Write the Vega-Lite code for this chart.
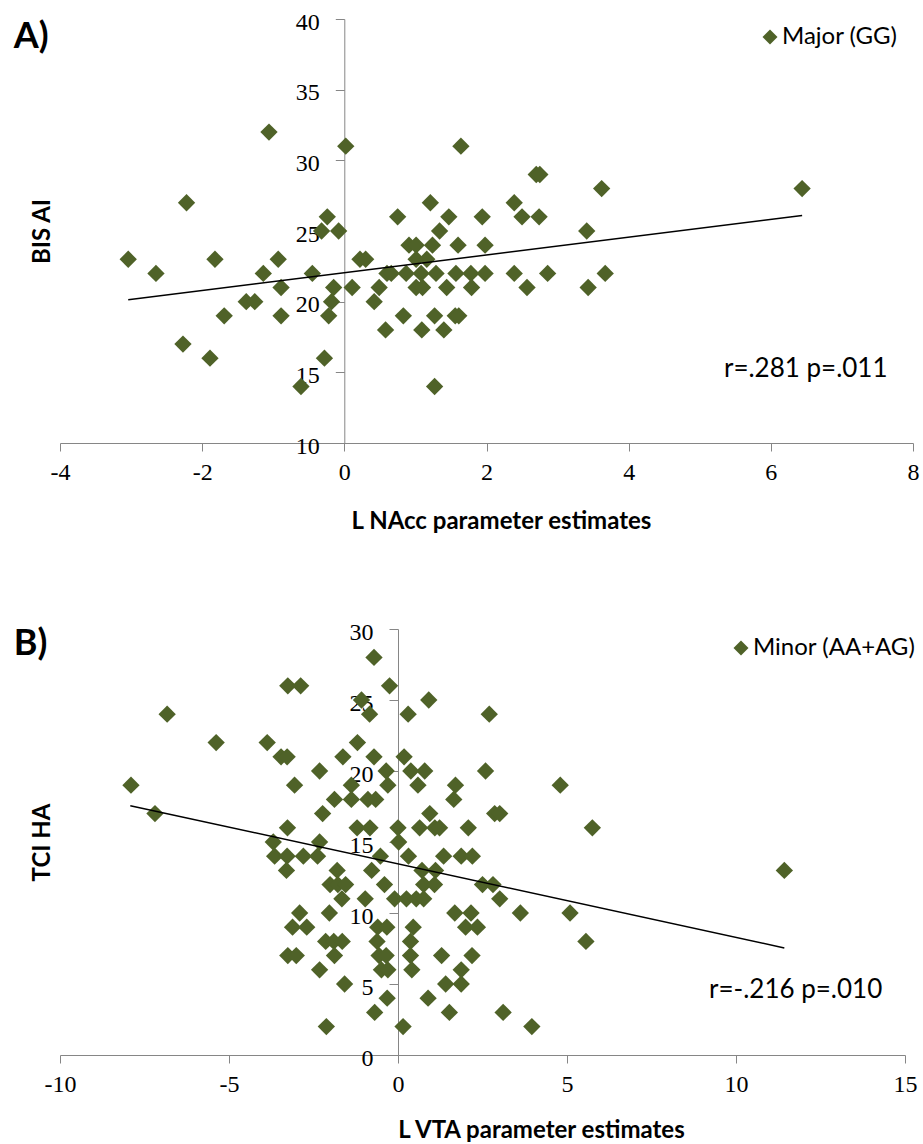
{
  "$schema": "https://vega.github.io/schema/vega-lite/v6.json",
  "padding": {"left": 13, "top": 10, "right": 3, "bottom": 0},
  "background": "white",
  "config": {
    "view": {"stroke": null},
    "axis": {
      "grid": false,
      "domainColor": "#868686",
      "tickColor": "#868686",
      "domainWidth": 1,
      "tickWidth": 1,
      "labelFont": "Liberation Serif",
      "labelFontSize": 24,
      "labelColor": "#000000",
      "titleFont": "Lato",
      "titleFontSize": 24,
      "titleFontWeight": "bold",
      "titleColor": "#000000",
      "labelFlush": false,
      "labelOverlap": false,
      "labelBound": false
    },
    "legend": {
      "labelFont": "Lato",
      "labelFontSize": 24,
      "labelColor": "#000000",
      "labelLimit": 400,
      "symbolType": "diamond",
      "symbolSize": 225,
      "symbolStrokeWidth": 0,
      "padding": 0,
      "labelOffset": 0
    }
  },
  "datasets": {
    "a_points": [
      {"x": -3.04, "y": 23, "group": "Major (GG)"}, {"x": -2.65, "y": 22, "group": "Major (GG)"}, {"x": -2.22, "y": 27, "group": "Major (GG)"},
      {"x": -2.27, "y": 17, "group": "Major (GG)"}, {"x": -1.89, "y": 16, "group": "Major (GG)"}, {"x": -1.82, "y": 23, "group": "Major (GG)"},
      {"x": -1.69, "y": 19, "group": "Major (GG)"}, {"x": -1.38, "y": 20, "group": "Major (GG)"}, {"x": -1.26, "y": 20, "group": "Major (GG)"},
      {"x": -1.14, "y": 22, "group": "Major (GG)"}, {"x": -1.06, "y": 32, "group": "Major (GG)"}, {"x": -0.93, "y": 23, "group": "Major (GG)"},
      {"x": -0.89, "y": 21, "group": "Major (GG)"}, {"x": -0.89, "y": 19, "group": "Major (GG)"}, {"x": -0.61, "y": 14, "group": "Major (GG)"},
      {"x": -0.45, "y": 22, "group": "Major (GG)"}, {"x": -0.32, "y": 25, "group": "Major (GG)"}, {"x": -0.28, "y": 16, "group": "Major (GG)"},
      {"x": -0.24, "y": 26, "group": "Major (GG)"}, {"x": -0.22, "y": 19, "group": "Major (GG)"}, {"x": -0.18, "y": 20, "group": "Major (GG)"},
      {"x": -0.15, "y": 21, "group": "Major (GG)"}, {"x": -0.08, "y": 25, "group": "Major (GG)"}, {"x": 0.02, "y": 31, "group": "Major (GG)"},
      {"x": 0.11, "y": 21, "group": "Major (GG)"}, {"x": 0.22, "y": 23, "group": "Major (GG)"}, {"x": 0.30, "y": 23, "group": "Major (GG)"},
      {"x": 0.42, "y": 20, "group": "Major (GG)"}, {"x": 0.49, "y": 21, "group": "Major (GG)"}, {"x": 0.58, "y": 18, "group": "Major (GG)"},
      {"x": 0.60, "y": 22, "group": "Major (GG)"}, {"x": 0.66, "y": 22, "group": "Major (GG)"}, {"x": 0.75, "y": 26, "group": "Major (GG)"},
      {"x": 0.83, "y": 19, "group": "Major (GG)"}, {"x": 0.87, "y": 22, "group": "Major (GG)"}, {"x": 0.91, "y": 24, "group": "Major (GG)"},
      {"x": 1.01, "y": 24, "group": "Major (GG)"}, {"x": 1.01, "y": 23, "group": "Major (GG)"}, {"x": 1.16, "y": 23, "group": "Major (GG)"},
      {"x": 1.01, "y": 21, "group": "Major (GG)"}, {"x": 1.10, "y": 21, "group": "Major (GG)"}, {"x": 1.08, "y": 22, "group": "Major (GG)"},
      {"x": 1.09, "y": 18, "group": "Major (GG)"}, {"x": 1.21, "y": 27, "group": "Major (GG)"}, {"x": 1.24, "y": 24, "group": "Major (GG)"},
      {"x": 1.27, "y": 19, "group": "Major (GG)"}, {"x": 1.27, "y": 14, "group": "Major (GG)"}, {"x": 1.29, "y": 22, "group": "Major (GG)"},
      {"x": 1.34, "y": 25, "group": "Major (GG)"}, {"x": 1.40, "y": 18, "group": "Major (GG)"}, {"x": 1.44, "y": 21, "group": "Major (GG)"},
      {"x": 1.47, "y": 26, "group": "Major (GG)"}, {"x": 1.57, "y": 22, "group": "Major (GG)"}, {"x": 1.56, "y": 19, "group": "Major (GG)"},
      {"x": 1.61, "y": 19, "group": "Major (GG)"}, {"x": 1.60, "y": 24, "group": "Major (GG)"}, {"x": 1.64, "y": 31, "group": "Major (GG)"},
      {"x": 1.78, "y": 22, "group": "Major (GG)"}, {"x": 1.79, "y": 21, "group": "Major (GG)"}, {"x": 1.94, "y": 26, "group": "Major (GG)"},
      {"x": 1.98, "y": 24, "group": "Major (GG)"}, {"x": 1.98, "y": 22, "group": "Major (GG)"}, {"x": 2.39, "y": 27, "group": "Major (GG)"},
      {"x": 2.39, "y": 22, "group": "Major (GG)"}, {"x": 2.50, "y": 26, "group": "Major (GG)"}, {"x": 2.57, "y": 21, "group": "Major (GG)"},
      {"x": 2.70, "y": 29, "group": "Major (GG)"}, {"x": 2.75, "y": 29, "group": "Major (GG)"}, {"x": 2.74, "y": 26, "group": "Major (GG)"},
      {"x": 2.86, "y": 22, "group": "Major (GG)"}, {"x": 3.41, "y": 25, "group": "Major (GG)"}, {"x": 3.43, "y": 21, "group": "Major (GG)"},
      {"x": 3.62, "y": 28, "group": "Major (GG)"}, {"x": 3.67, "y": 22, "group": "Major (GG)"}, {"x": 6.44, "y": 28, "group": "Major (GG)"}
    ],
    "a_trend": [{"x": -3.04, "y": 20.14}, {"x": 6.44, "y": 26.09}],
    "a_note": [{"label": "r=.281 p=.011"}],
    "a_tag": [{"label": "A)"}],
    "b_points": [
      {"x": -0.71, "y": 28, "group": "Minor (AA+AG)"},
      {"x": -3.26, "y": 26, "group": "Minor (AA+AG)"}, {"x": -2.88, "y": 26, "group": "Minor (AA+AG)"}, {"x": -0.25, "y": 26, "group": "Minor (AA+AG)"},
      {"x": 0.91, "y": 25, "group": "Minor (AA+AG)"}, {"x": -1.08, "y": 25, "group": "Minor (AA+AG)"},
      {"x": -6.83, "y": 24, "group": "Minor (AA+AG)"}, {"x": -0.84, "y": 24, "group": "Minor (AA+AG)"}, {"x": 0.30, "y": 24, "group": "Minor (AA+AG)"}, {"x": 2.70, "y": 24, "group": "Minor (AA+AG)"},
      {"x": -5.38, "y": 22, "group": "Minor (AA+AG)"}, {"x": -3.87, "y": 22, "group": "Minor (AA+AG)"}, {"x": -1.20, "y": 22, "group": "Minor (AA+AG)"},
      {"x": -3.46, "y": 21, "group": "Minor (AA+AG)"}, {"x": -3.28, "y": 21, "group": "Minor (AA+AG)"}, {"x": -1.63, "y": 21, "group": "Minor (AA+AG)"}, {"x": -0.71, "y": 21, "group": "Minor (AA+AG)"}, {"x": 0.18, "y": 21, "group": "Minor (AA+AG)"},
      {"x": -2.32, "y": 20, "group": "Minor (AA+AG)"}, {"x": -0.35, "y": 20, "group": "Minor (AA+AG)"}, {"x": 0.38, "y": 20, "group": "Minor (AA+AG)"}, {"x": 0.79, "y": 20, "group": "Minor (AA+AG)"}, {"x": 2.59, "y": 20, "group": "Minor (AA+AG)"},
      {"x": -7.90, "y": 19, "group": "Minor (AA+AG)"}, {"x": -3.06, "y": 19, "group": "Minor (AA+AG)"}, {"x": -1.38, "y": 19, "group": "Minor (AA+AG)"}, {"x": -0.30, "y": 19, "group": "Minor (AA+AG)"}, {"x": 0.59, "y": 19, "group": "Minor (AA+AG)"}, {"x": 1.70, "y": 19, "group": "Minor (AA+AG)"}, {"x": 4.80, "y": 19, "group": "Minor (AA+AG)"},
      {"x": -1.88, "y": 18, "group": "Minor (AA+AG)"}, {"x": -1.38, "y": 18, "group": "Minor (AA+AG)"}, {"x": -0.89, "y": 18, "group": "Minor (AA+AG)"}, {"x": -0.66, "y": 18, "group": "Minor (AA+AG)"}, {"x": 1.65, "y": 18, "group": "Minor (AA+AG)"},
      {"x": -7.19, "y": 17, "group": "Minor (AA+AG)"}, {"x": -2.23, "y": 17, "group": "Minor (AA+AG)"}, {"x": 0.94, "y": 17, "group": "Minor (AA+AG)"}, {"x": 2.86, "y": 17, "group": "Minor (AA+AG)"}, {"x": 3.01, "y": 17, "group": "Minor (AA+AG)"},
      {"x": -3.27, "y": 16, "group": "Minor (AA+AG)"}, {"x": -1.21, "y": 16, "group": "Minor (AA+AG)"}, {"x": -0.83, "y": 16, "group": "Minor (AA+AG)"}, {"x": 0.0, "y": 16, "group": "Minor (AA+AG)"}, {"x": 0.64, "y": 16, "group": "Minor (AA+AG)"}, {"x": 1.09, "y": 16, "group": "Minor (AA+AG)"}, {"x": 1.23, "y": 16, "group": "Minor (AA+AG)"}, {"x": 2.08, "y": 16, "group": "Minor (AA+AG)"}, {"x": 5.75, "y": 16, "group": "Minor (AA+AG)"},
      {"x": -3.69, "y": 15, "group": "Minor (AA+AG)"}, {"x": -2.32, "y": 15, "group": "Minor (AA+AG)"}, {"x": 0.02, "y": 15, "group": "Minor (AA+AG)"},
      {"x": -3.65, "y": 14, "group": "Minor (AA+AG)"}, {"x": -3.28, "y": 14, "group": "Minor (AA+AG)"}, {"x": -2.80, "y": 14, "group": "Minor (AA+AG)"}, {"x": -2.38, "y": 14, "group": "Minor (AA+AG)"}, {"x": -0.52, "y": 14, "group": "Minor (AA+AG)"}, {"x": 0.31, "y": 14, "group": "Minor (AA+AG)"}, {"x": 1.35, "y": 14, "group": "Minor (AA+AG)"}, {"x": 1.87, "y": 14, "group": "Minor (AA+AG)"}, {"x": 2.20, "y": 14, "group": "Minor (AA+AG)"},
      {"x": -3.30, "y": 13, "group": "Minor (AA+AG)"}, {"x": -1.80, "y": 13, "group": "Minor (AA+AG)"}, {"x": -0.78, "y": 13, "group": "Minor (AA+AG)"}, {"x": 0.71, "y": 13, "group": "Minor (AA+AG)"}, {"x": 1.11, "y": 13, "group": "Minor (AA+AG)"}, {"x": 11.43, "y": 13, "group": "Minor (AA+AG)"},
      {"x": -2.01, "y": 12, "group": "Minor (AA+AG)"}, {"x": -1.78, "y": 12, "group": "Minor (AA+AG)"}, {"x": -1.55, "y": 12, "group": "Minor (AA+AG)"}, {"x": -0.40, "y": 12, "group": "Minor (AA+AG)"}, {"x": 0.76, "y": 12, "group": "Minor (AA+AG)"}, {"x": 1.08, "y": 12, "group": "Minor (AA+AG)"}, {"x": 2.50, "y": 12, "group": "Minor (AA+AG)"}, {"x": 2.81, "y": 12, "group": "Minor (AA+AG)"},
      {"x": -1.66, "y": 11, "group": "Minor (AA+AG)"}, {"x": -0.97, "y": 11, "group": "Minor (AA+AG)"}, {"x": -0.10, "y": 11, "group": "Minor (AA+AG)"}, {"x": 0.25, "y": 11, "group": "Minor (AA+AG)"}, {"x": 0.54, "y": 11, "group": "Minor (AA+AG)"}, {"x": 0.76, "y": 11, "group": "Minor (AA+AG)"}, {"x": 3.01, "y": 11, "group": "Minor (AA+AG)"},
      {"x": -2.91, "y": 10, "group": "Minor (AA+AG)"}, {"x": -2.03, "y": 10, "group": "Minor (AA+AG)"}, {"x": 1.68, "y": 10, "group": "Minor (AA+AG)"}, {"x": 2.16, "y": 10, "group": "Minor (AA+AG)"}, {"x": 3.62, "y": 10, "group": "Minor (AA+AG)"}, {"x": 5.09, "y": 10, "group": "Minor (AA+AG)"},
      {"x": -3.12, "y": 9, "group": "Minor (AA+AG)"}, {"x": -2.70, "y": 9, "group": "Minor (AA+AG)"}, {"x": -0.60, "y": 9, "group": "Minor (AA+AG)"}, {"x": -0.33, "y": 9, "group": "Minor (AA+AG)"}, {"x": 0.45, "y": 9, "group": "Minor (AA+AG)"}, {"x": 2.00, "y": 9, "group": "Minor (AA+AG)"}, {"x": 2.35, "y": 9, "group": "Minor (AA+AG)"},
      {"x": -2.14, "y": 8, "group": "Minor (AA+AG)"}, {"x": -1.90, "y": 8, "group": "Minor (AA+AG)"}, {"x": -1.65, "y": 8, "group": "Minor (AA+AG)"}, {"x": -0.62, "y": 8, "group": "Minor (AA+AG)"}, {"x": 0.37, "y": 8, "group": "Minor (AA+AG)"}, {"x": 5.56, "y": 8, "group": "Minor (AA+AG)"},
      {"x": -3.26, "y": 7, "group": "Minor (AA+AG)"}, {"x": -3.01, "y": 7, "group": "Minor (AA+AG)"}, {"x": -1.88, "y": 7, "group": "Minor (AA+AG)"}, {"x": -0.56, "y": 7, "group": "Minor (AA+AG)"}, {"x": -0.35, "y": 7, "group": "Minor (AA+AG)"}, {"x": 0.37, "y": 7, "group": "Minor (AA+AG)"}, {"x": 1.29, "y": 7, "group": "Minor (AA+AG)"}, {"x": 2.19, "y": 7, "group": "Minor (AA+AG)"},
      {"x": -2.32, "y": 6, "group": "Minor (AA+AG)"}, {"x": -0.49, "y": 6, "group": "Minor (AA+AG)"}, {"x": -0.30, "y": 6, "group": "Minor (AA+AG)"}, {"x": 0.41, "y": 6, "group": "Minor (AA+AG)"}, {"x": 1.87, "y": 6, "group": "Minor (AA+AG)"},
      {"x": -1.58, "y": 5, "group": "Minor (AA+AG)"}, {"x": 1.41, "y": 5, "group": "Minor (AA+AG)"}, {"x": 1.87, "y": 5, "group": "Minor (AA+AG)"},
      {"x": -0.32, "y": 4, "group": "Minor (AA+AG)"}, {"x": 0.89, "y": 4, "group": "Minor (AA+AG)"},
      {"x": -0.69, "y": 3, "group": "Minor (AA+AG)"}, {"x": 1.52, "y": 3, "group": "Minor (AA+AG)"}, {"x": 3.11, "y": 3, "group": "Minor (AA+AG)"},
      {"x": -2.12, "y": 2, "group": "Minor (AA+AG)"}, {"x": 0.15, "y": 2, "group": "Minor (AA+AG)"}, {"x": 3.96, "y": 2, "group": "Minor (AA+AG)"}
    ],
    "b_trend": [{"x": -7.92, "y": 17.56}, {"x": 11.43, "y": 7.54}],
    "b_note": [{"label": "r=-.216 p=.010"}],
    "b_tag": [{"label": "B)"}]
  },
  "spacing": 87,
  "resolve": {"scale": {"color": "independent"}, "legend": {"color": "independent"}},
  "vconcat": [
    {
      "width": 853,
      "height": 424,
      "layer": [
        {
          "data": {"name": "a_points"},
          "mark": {"type": "point", "shape": "diamond", "filled": true, "size": 300, "opacity": 1},
          "encoding": {
            "x": {"field": "x", "type": "quantitative", "scale": {"domain": [-4, 8], "nice": false, "zero": false},
                  "axis": {"values": [-4, -2, 0, 2, 4, 6, 8], "labelExpr": "'' + datum.value", "labelFont": "Liberation Serif", "title": "L NAcc parameter estimates", "tickSize": 8, "labelPadding": 9, "titlePadding": 25, "titleX": 441}},
            "y": {"field": "y", "type": "quantitative", "scale": {"domain": [10, 40], "nice": false, "zero": false},
                  "axis": {"values": [10, 15, 20, 25, 30, 35, 40], "labelExpr": "'' + datum.value", "labelFont": "Liberation Serif", "title": "BIS AI", "offset": -284.3, "tickSize": 9, "labelPadding": 16, "labelOffset": 3, "titleX": -295, "titleY": 212, "titleAngle": -90, "titleAlign": "center", "titleBaseline": "alphabetic"}},
            "color": {"field": "group", "type": "nominal", "scale": {"domain": ["Major (GG)"], "range": ["#4F6228"]},
                      "legend": {"orient": "none", "legendX": 698, "legendY": 6, "title": null}}
          }
        },
        {
          "data": {"name": "a_trend"},
          "mark": {"type": "line", "color": "#000000", "strokeWidth": 1.5},
          "encoding": {"x": {"field": "x", "type": "quantitative"}, "y": {"field": "y", "type": "quantitative"}}
        },
        {
          "data": {"name": "a_note"},
          "mark": {"type": "text", "font": "Lato", "fontSize": 26, "align": "left", "baseline": "alphabetic", "color": "#000000"},
          "encoding": {"x": {"datum": 5.34}, "y": {"datum": 14.67}, "text": {"field": "label"}}
        },
        {
          "data": {"name": "a_tag"},
          "mark": {"type": "text", "font": "Lato", "fontSize": 36, "fontWeight": "bold", "align": "left", "baseline": "alphabetic", "color": "#000000", "clip": false},
          "encoding": {"x": {"datum": -4.65}, "y": {"datum": 37.96}, "text": {"field": "label"}}
        }
      ]
    },
    {
      "width": 845,
      "height": 426,
      "layer": [
        {
          "data": {"name": "b_points"},
          "mark": {"type": "point", "shape": "diamond", "filled": true, "size": 300, "opacity": 1},
          "encoding": {
            "x": {"field": "x", "type": "quantitative", "scale": {"domain": [-10, 15], "nice": false, "zero": false},
                  "axis": {"values": [-10, -5, 0, 5, 10, 15], "labelExpr": "'' + datum.value", "labelFont": "Liberation Serif", "title": "L VTA parameter estimates", "tickSize": 8, "labelPadding": 9, "titlePadding": 22, "titleX": 481}},
            "y": {"field": "y", "type": "quantitative", "scale": {"domain": [0, 30], "nice": false, "zero": false},
                  "axis": {"values": [0, 5, 10, 15, 20, 25, 30], "labelExpr": "'' + datum.value", "labelFont": "Liberation Serif", "title": "TCI HA", "offset": -338, "tickSize": 9, "labelPadding": 16, "labelOffset": 3, "titleX": -348.7, "titleY": 213, "titleAngle": -90, "titleAlign": "center", "titleBaseline": "alphabetic"}},
            "color": {"field": "group", "type": "nominal", "scale": {"domain": ["Minor (AA+AG)"], "range": ["#4F6228"]},
                      "legend": {"orient": "none", "legendX": 669, "legendY": 7, "title": null}}
          }
        },
        {
          "data": {"name": "b_trend"},
          "mark": {"type": "line", "color": "#000000", "strokeWidth": 1.5},
          "encoding": {"x": {"field": "x", "type": "quantitative"}, "y": {"field": "y", "type": "quantitative"}}
        },
        {
          "data": {"name": "b_note"},
          "mark": {"type": "text", "font": "Lato", "fontSize": 26, "align": "left", "baseline": "alphabetic", "color": "#000000"},
          "encoding": {"x": {"datum": 9.2}, "y": {"datum": 4.0}, "text": {"field": "label"}}
        },
        {
          "data": {"name": "b_tag"},
          "mark": {"type": "text", "font": "Lato", "fontSize": 36, "fontWeight": "bold", "align": "left", "baseline": "alphabetic", "color": "#000000", "clip": false},
          "encoding": {"x": {"datum": -11.37}, "y": {"datum": 28.17}, "text": {"field": "label"}}
        }
      ]
    }
  ]
}
